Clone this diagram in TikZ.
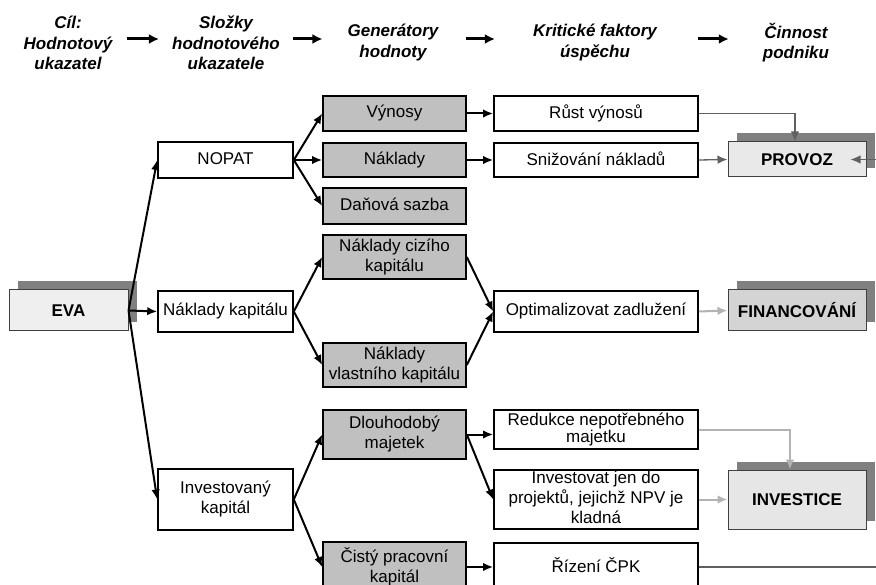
\documentclass[tikz,border=0pt]{standalone}
\usepackage{fontspec}
\setmainfont{Liberation Sans}
\usepackage{tikz}
\usetikzlibrary{arrows.meta,shadows,calc}
\tikzset{>={Latex[length=10pt,width=8.5pt]}}
\definecolor{genfill}{HTML}{C0C0C0}
\definecolor{evafill}{HTML}{EFEFEF}
\definecolor{provozfill}{HTML}{E9E9E9}
\definecolor{finfill}{HTML}{D4D4D4}
\definecolor{invfill}{HTML}{E6E6E6}
\definecolor{shadowgrey}{HTML}{808080}
\definecolor{darklink}{HTML}{606060}
\definecolor{lightlink}{HTML}{B3B3B3}
\newcommand\diagfont{\fontsize{17pt}{20pt}\selectfont}
\newcommand\linestrut{\rule[-3.6pt]{0pt}{15.4pt}}
\tikzset{
  hdr/.style={font=\fontsize{17pt}{20.5pt}\selectfont\bfseries\itshape, align=center, inner sep=0pt},
  boxbase/.style={draw, line width=1.6pt, font=\diagfont, align=center, inner xsep=1pt, inner ysep=0pt},
  box/.style={boxbase, execute at begin node=\linestrut, execute at end node=\linestrut},
  c1/.style={box, fill=white, minimum width=135pt},
  c2/.style={box, fill=genfill, minimum width=143pt},
  c3/.style={box, fill=white, minimum width=204pt},
  act/.style={draw=black!75, line width=1pt, font=\diagfont\bfseries, align=center,
    minimum width=138pt, drop shadow={shadow xshift=9pt, shadow yshift=8.5pt, fill=shadowgrey, opacity=1}},
  link/.style={->, line width=2pt},
  hlink/.style={-{Latex[length=10pt,width=10pt]}, line width=3pt},
  dlink/.style={->, draw=darklink, line width=1.3pt},
  llink/.style={->, draw=lightlink, line width=2pt}
}

\begin{document}
\begin{tikzpicture}[x=1pt, y=-1pt]
\path[use as bounding box, clip] (0,0) rectangle (876,585);

\node[hdr] (h1) at (68,43) {Cíl:\\Hodnotový\\ukazatel};
\node[hdr] (h2) at (226,43) {Složky\\hodnotového\\ukazatele};
\node[hdr] (h3) at (393,42.5) {Generátory\\hodnoty};
\node[hdr] (h4) at (595,42.5) {Kritické faktory\\úspěchu};
\node[hdr] (h5) at (796,42.5) {Činnost\\podniku};
\draw[hlink, shorten <=14pt, shorten >=13pt] ([yshift=4pt]h1.east) -- ([yshift=4pt]h2.west);
\draw[hlink, shorten <=13pt, shorten >=25pt] ([yshift=4pt]h2.east) -- ([yshift=3.5pt]h3.west);
\draw[hlink, shorten <=27pt, shorten >=38pt] ([yshift=3.5pt]h3.east) -- ([yshift=3.5pt]h4.west);
\draw[hlink, shorten <=41pt, shorten >=34pt] ([yshift=3.5pt]h4.east) -- ([yshift=3.5pt]h5.west);

\node[act, fill=evafill, minimum width=119pt, minimum height=41pt] (eva) at (68.5,310.5) {EVA};

\node[c1, minimum height=36pt] (nopat) at (225.5,160) {NOPAT};
\node[c1, minimum height=41pt] (nkap) at (225.5,311.5) {Náklady kapitálu};
\node[c1, minimum height=61pt] (invk) at (225.5,499.5) {Investovaný\\kapitál};

\node[c2, minimum height=35pt] (vynosy) at (394.5,113.5) {Výnosy};
\node[c2, minimum height=34pt] (naklady) at (394.5,160) {Náklady};
\node[c2, minimum height=36pt] (dan) at (394.5,206) {Daňová sazba};
\node[c2, minimum height=44pt] (ciz) at (394.5,257) {Náklady cizího\\kapitálu};
\node[c2, minimum height=44pt] (vlast) at (394.5,365) {Náklady\\vlastního kapitálu};
\node[c2, minimum height=49pt] (dlouh) at (394.5,434.5) {Dlouhodobý\\majetek};
\node[c2, minimum height=50pt] (cpk) at (394.5,567) {Čistý pracovní\\kapitál};

\node[c3, minimum height=35pt] (rust) at (596,113.5) {Růst výnosů};
\node[c3, minimum height=34pt] (sniz) at (596,160) {Snižování nákladů};
\node[c3, minimum height=41pt] (opt) at (596,311.5) {Optimalizovat zadlužení};
\node[boxbase, fill=white, minimum width=204pt, minimum height=39pt,
  font=\fontsize{17pt}{17pt}\selectfont] (red) at (596,429.5) {Redukce nepotřebného\\majetku};
\node[c3, minimum height=59pt] (projekty) at (596,499.5) {Investovat jen do\\projektů, jejichž NPV je\\kladná};
\node[c3, minimum height=48pt] (rizeni) at (596,567) {Řízení ČPK};

\node[act, fill=provozfill, minimum height=35pt] (provoz) at (797,159.5) {PROVOZ};
\node[act, fill=finfill, minimum height=41pt] (fin) at (797,310.5) {FINANCOVÁNÍ};
\node[act, fill=invfill, minimum height=59pt] (investice) at (797,499.5) {INVESTICE};

\draw[link] (eva.east) -- (nopat.west);
\draw[link] (eva.east) -- (nkap.west);
\draw[link] (eva.east) -- (invk.west);

\draw[link] (nopat.east) -- (vynosy.west);
\draw[link] (nopat.east) -- (naklady.west);
\draw[link] (nopat.east) -- (dan.west);
\draw[link] (nkap.east) -- (ciz.west);
\draw[link] (nkap.east) -- (vlast.west);
\draw[link] (invk.east) -- (dlouh.west);
\draw[link] (invk.east) -- (cpk.west);

\draw[link] (vynosy) -- (rust);
\draw[link] (naklady) -- (sniz);
\draw[link] (ciz.east) -- (opt.west);
\draw[link] (vlast.east) -- (opt.west);
\draw[link] (dlouh.east) -- (dlouh.east -| red.west);
\draw[link] (dlouh.east) -- (projekty.west);
\draw[link] (cpk.east) -- (rizeni.west);

\draw[dlink] (rust.east) -| ([xshift=-2pt]provoz.north);
\draw[dlink] (sniz.east) -- (provoz.west);
\draw[dlink] (rizeni.east) -- ++(200,0) |- ([xshift=-16pt]provoz.east);
\draw[llink] (opt.east) -- (fin.west);
\draw[llink] (red.east) -| ([xshift=-7pt]investice.north);
\draw[llink] (projekty.east) -- (investice.west);
\end{tikzpicture}
\end{document}
